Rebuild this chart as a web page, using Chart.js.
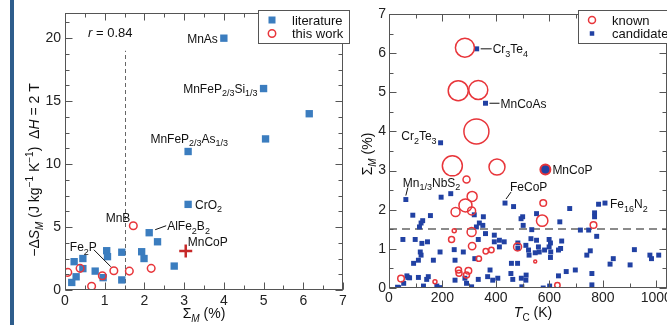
<!DOCTYPE html>
<html>
<head>
<meta charset="utf-8">
<script src="https://cdn.jsdelivr.net/npm/chart.js@4.4.0/dist/chart.umd.min.js"></script>
<style>
    html, body { margin: 0; padding: 0; background: #fff; overflow: hidden; width: 667px; height: 325px; }
    #bar { position: absolute; left: 10px; top: 0; width: 4px; height: 325px; background: #2e5d8c; }
    #wrap-left { position: absolute; left: 0; top: 0; width: 355px; height: 325px; }
    #wrap-right { position: absolute; left: 355px; top: 0; width: 330px; height: 325px; }
</style>
</head>
<body>
<div id="bar"></div>
<div id="wrap-left"><canvas id="left"></canvas></div>
<div id="wrap-right"><canvas id="right"></canvas></div>
<script>
// left panel: -dS_M vs Sigma_M
const litX = [4.0, 5.0, 6.15, 3.1, 5.05, 3.1, 2.12, 2.33, 1.93, 1.99, 2.75, 1.43, 1.43, 1.05, 1.07, 0.96, 0.76, 0.45, 0.45, 0.23, 0.28, 0.17];
const litY = [20, 16, 14, 11, 12, 6.8, 4.55, 3.83, 3.04, 2.5, 1.9, 3.0, 0.8, 3.12, 2.65, 0.98, 1.5, 2.5, 1.7, 2.25, 1.05, 0.6];
const workX = [1.72, 2.17, 1.62, 1.23, 0.94, 0.67, 0.38, 0.07];
const workY = [5.1, 1.72, 1.5, 1.53, 1.13, 0.3, 1.72, 1.4];
const mncopLeft = [3.04, 3.1];
const xTicksL = [0, 1, 2, 3, 4, 5, 6, 7];
const yTicksL = [0, 5, 10, 15, 20];
const cutoffSigma = 1.5;

// right panel: Sigma_M vs T_C
const knownTc = [284, 259, 334, 327, 237, 404, 290, 311, 286, 249, 309, 309, 244, 234, 311, 362, 383, 336, 260, 262, 297, 290, 45, 172, 481, 577, 573, 765, 547, 630];
const knownSigma = [6.14, 5.04, 5.06, 4.0, 3.12, 3.09, 2.77, 2.34, 2.11, 1.94, 1.97, 1.43, 1.46, 1.24, 1.07, 0.94, 0.97, 0.75, 0.46, 0.38, 0.44, 0.33, 0.24, 0.16, 1.05, 2.17, 1.72, 1.61, 0.68, 0.07];
const knownSize = [9.5, 10, 9.5, 12.5, 10, 8, 3.5, 5, 6.5, 4.5, 4, 4.5, 2, 3, 3.7, 2.7, 2.7, 2.7, 3, 3, 3.3, 3, 3.3, 2, 4, 3.3, 5.7, 3.3, 1.5, 2.7];
const candidates = [
    [32, 0.02], [55, 0.12], [71, 0.27], [52, 1.24], [63, 2.26],
    [195, 2.32], [231, 2.41], [319, 1.87], [89, 1.86], [120, 1.66], [114, 1.56], [126, 1.72], [327, 1.56],
    [98, 1.24], [123, 1.14], [144, 1.18], [117, 0.92], [120, 0.84], [191, 0.92], [244, 0.98], [278, 0.92],
    [166, 0.71], [247, 0.71], [110, 0.71], [92, 0.63], [321, 0.75], [67, 0.31], [77, 0.26], [110, 0.27],
    [141, 0.22], [147, 0.29], [129, 0.05], [179, 0.05], [191, 0.01], [36, 0.01], [247, 0.2], [284, 0.25],
    [290, 0.12], [334, 0.22], [309, 0.03], [338, 1.66], [155, 1.85], [334, 1.24],
    [434, 2.17], [466, 2.08], [353, 1.82], [351, 1.6], [361, 1.39], [394, 1.35], [413, 1.22], [394, 1.18],
    [413, 1.05], [378, 0.46], [369, 0.29], [388, 0.2], [407, 0.25], [463, 0.22], [481, 0.63], [497, 0.03],
    [512, 0.2], [500, 1.82], [502, 1.6], [512, 1.09], [522, 0.97], [524, 0.84], [531, 1.26], [552, 1.9],
    [552, 1.22], [559, 1.05], [562, 0.92], [547, 0.9], [599, 1.24], [599, 1.05], [605, 0.92], [634, 0.97],
    [642, 1.01], [646, 1.2], [639, 1.69], [676, 2.03], [663, 0.42], [634, 0.31], [601, 0.05], [577, 0.0],
    [431, 1.18], [456, 0.37], [494, 1.77], [534, 1.49], [482, 1.15], [482, 1.01], [582, 0.97], [604, 1.15],
    [604, 0.78], [458, 0.63], [495, 0.25], [513, 0.33],
    [784, 2.14], [808, 2.17], [769, 1.92], [769, 1.82], [716, 1.48], [747, 1.48], [777, 1.32], [753, 0.95],
    [740, 0.84], [918, 0.98], [976, 0.84], [982, 0.75], [1009, 0.84], [839, 0.75], [827, 0.61], [902, 0.59],
    [697, 0.46], [759, 0.37], [759, 0.08],
    [328, 6.11], [361, 4.72], [193, 3.71]
];
const mncopRight = [585, 3.03];
const xTicksR = [0, 200, 400, 600, 800, 1000];
const yTicksR = [0, 1, 2, 3, 4, 5, 6, 7];

const fam = '"Liberation Sans", Arial, Helvetica, sans-serif';
const red = '#e8353a';
const litBlue = '#3b7dbf';
const candBlue = '#2141a3';
const frameColor = '#555';

Chart.defaults.font.family = fam;
Chart.defaults.color = '#222';

function range(a, b, step) {
    const out = [];
    for (let v = a; v <= b + 1e-9; v += step) out.push(+v.toFixed(4));
    return out;
}

// tiny markup: *italic*, _{sub}, ^{sup}
function parseRich(s) {
    const out = [];
    let i = 0, it = false, buf = '';
    const push = (t, mode, ital) => { if (t) out.push({ t, mode, it: ital }); };
    while (i < s.length) {
        const c = s[i];
        if (c === '*') { push(buf, 0, it); buf = ''; it = !it; i++; }
        else if ((c === '_' || c === '^') && s[i + 1] === '{') {
            push(buf, 0, it); buf = '';
            const j = s.indexOf('}', i);
            let t = s.slice(i + 2, j), sit = it;
            if (t[0] === '*') { t = t.replace(/\*/g, ''); sit = true; }
            push(t, c === '_' ? 1 : -1, sit);
            i = j + 1;
        } else { buf += c; i++; }
    }
    push(buf, 0, it);
    return out;
}

function rich(ctx, s, x, y, size, align) {
    const segs = parseRich(s);
    const f = g => `${g.it ? 'italic ' : ''}${g.mode ? Math.round(size * 0.72) : size}px ${fam}`;
    let w = 0;
    segs.forEach(g => { ctx.font = f(g); g.w = ctx.measureText(g.t).width; w += g.w; });
    let cx = align === 'right' ? x - w : align === 'center' ? x - w / 2 : x;
    ctx.textAlign = 'left';
    ctx.textBaseline = 'alphabetic';
    const base = y + size * 0.36;
    segs.forEach(g => {
        ctx.font = f(g);
        const dy = g.mode === 1 ? size * 0.3 : g.mode === -1 ? -size * 0.4 : 0;
        ctx.fillText(g.t, cx, base + dy);
        cx += g.w;
    });
}

function drawFrame(chart, xMaj, xMin, yMaj, yMin) {
    const { ctx, chartArea: a, scales: { x, y } } = chart;
    const L = Math.round(a.left) + 0.5, R = Math.round(a.right) - 0.5;
    const T = Math.round(a.top) + 0.5, B = Math.round(a.bottom) - 0.5;
    ctx.save();
    ctx.strokeStyle = frameColor;
    ctx.lineWidth = 1;
    ctx.strokeRect(L, T, R - L, B - T);
    ctx.beginPath();
    const xt = (v, len) => {
        const p = Math.round(x.getPixelForValue(v)) + 0.5;
        if (p < L - 1 || p > R + 1) return;
        ctx.moveTo(p, B); ctx.lineTo(p, B - len);
        ctx.moveTo(p, T); ctx.lineTo(p, T + len);
    };
    const yt = (v, len) => {
        const p = Math.round(y.getPixelForValue(v)) + 0.5;
        if (p < T - 1 || p > B + 1) return;
        ctx.moveTo(L, p); ctx.lineTo(L + len, p);
        ctx.moveTo(R, p); ctx.lineTo(R - len, p);
    };
    xMin.forEach(v => xt(v, 4));
    xMaj.forEach(v => xt(v, 7));
    yMin.forEach(v => yt(v, 4));
    yMaj.forEach(v => yt(v, 7));
    ctx.stroke();
    ctx.restore();
}

function drawLabels(chart, labels) {
    const { ctx, scales: { x, y } } = chart;
    ctx.save();
    ctx.fillStyle = '#111';
    ctx.strokeStyle = '#111';
    ctx.lineWidth = 1;
    labels.forEach(l => {
        const px = x.getPixelForValue(l.at[0]), py = y.getPixelForValue(l.at[1]);
        if (l.line) {
            ctx.beginPath();
            ctx.moveTo(px + l.line[0], py + l.line[1]);
            ctx.lineTo(px + l.line[2], py + l.line[3]);
            ctx.stroke();
        }
        rich(ctx, l.s, px + l.dx, py + l.dy, 12, l.align);
    });
    ctx.restore();
}

function legendBox(ctx, left, top, w, h, items) {
    ctx.save();
    ctx.fillStyle = '#fff';
    ctx.fillRect(left, top, w, h);
    ctx.strokeStyle = frameColor;
    ctx.lineWidth = 1;
    ctx.strokeRect(left + 0.5, top + 0.5, w, h);
    items.forEach((it, i) => {
        const cy = top + 10 + i * 13.5, cx = left + 14;
        if (it.kind === 'rect') {
            ctx.fillStyle = it.color;
            ctx.fillRect(cx - it.size / 2, cy - it.size / 2, it.size, it.size);
        } else {
            ctx.strokeStyle = it.color;
            ctx.lineWidth = 1.5;
            ctx.beginPath();
            ctx.arc(cx, cy, it.size, 0, Math.PI * 2);
            ctx.stroke();
        }
        ctx.fillStyle = '#111';
        rich(ctx, it.text, left + 34, cy, 13, 'left');
    });
    ctx.restore();
}

function pts(xs, ys) { return xs.map((v, i) => ({ x: v, y: ys[i] })); }

function axisOpts(min, max, ticks, size, pad, fit) {
    return {
        type: 'linear', min, max,
        grid: { display: false, drawTicks: false },
        border: { display: false },
        ticks: { font: { size: 14 }, color: '#222', padding: pad, maxRotation: 0, callback: v => String(v) },
        afterBuildTicks: s => { s.ticks = ticks.map(v => ({ value: v })); },
        afterFit: fit
    };
}

const labelsL = [
    { s: 'MnAs', at: [4.0, 20], dx: -6, dy: 0, align: 'right' },
    { s: 'MnFeP_{2/3}Si_{1/3}', at: [5.0, 16], dx: -6, dy: 0, align: 'right' },
    { s: 'MnFeP_{2/3}As_{1/3}', at: [3.1, 11], dx: 40, dy: -13, align: 'right' },
    { s: 'CrO_{2}', at: [3.1, 6.8], dx: 7, dy: 0, align: 'left' },
    { s: 'AlFe_{2}B_{2}', at: [2.12, 4.55], dx: 18, dy: -7, align: 'left', line: [6, -3, 17, -7] },
    { s: 'MnB', at: [1.72, 5.1], dx: -3, dy: -8, align: 'right' },
    { s: 'MnCoP', at: [3.04, 3.1], dx: 2, dy: -9, align: 'left' },
    { s: 'Fe_{2}P', at: [1.23, 1.53], dx: -17, dy: -24, align: 'right', line: [-20, -21, -3, -4] }
];

const labelsR = [
    { s: 'Cr_{3}Te_{4}', at: [328, 6.11], dx: 16, dy: 0, align: 'left', line: [4, 0, 15, 0] },
    { s: 'MnCoAs', at: [361, 4.72], dx: 15, dy: 0, align: 'left', line: [4, 0, 14, 0] },
    { s: 'Cr_{2}Te_{3}', at: [193, 3.71], dx: -4, dy: -7, align: 'right' },
    { s: 'MnCoP', at: [585, 3.03], dx: 7, dy: 0, align: 'left' },
    { s: 'Mn_{1/3}NbS_{2}', at: [63, 2.26], dx: -3, dy: -17, align: 'left', line: [0, -4, 2, -12] },
    { s: 'FeCoP', at: [434, 2.17], dx: 5, dy: -16, align: 'left', line: [1, -4, 6, -11] },
    { s: 'Fe_{16}N_{2}', at: [808, 2.17], dx: 5, dy: 1, align: 'left' }
];

const leftDecor = {
    id: 'leftDecor',
    beforeDatasetsDraw(chart) {
        const { ctx, scales: { x, y } } = chart;
        ctx.save();
        ctx.strokeStyle = '#666';
        ctx.lineWidth = 1;
        ctx.setLineDash([4, 3]);
        const px = Math.round(x.getPixelForValue(cutoffSigma)) + 0.5;
        ctx.beginPath();
        ctx.moveTo(px, y.getPixelForValue(0));
        ctx.lineTo(px, y.getPixelForValue(19));
        ctx.stroke();
        ctx.restore();
    },
    afterDraw(chart) {
        const { ctx, chartArea: a, scales: { x, y } } = chart;
        drawFrame(chart, xTicksL, range(0, 7, 0.5), yTicksL, range(0, 22, 1.25));
        drawLabels(chart, labelsL);
        ctx.save();
        ctx.fillStyle = '#111';
        rich(ctx, '*r* = 0.84', x.getPixelForValue(0.58), y.getPixelForValue(20.5), 13, 'left');
        // axis titles
        rich(ctx, 'Σ_{*M*} (%)', (a.left + a.right) / 2, 313, 14, 'center');
        ctx.translate(34, 170);
        ctx.rotate(-Math.PI / 2);
        rich(ctx, '−Δ*S*_{*M*} (J kg^{−1} K^{−1})  Δ*H* = 2 T', 0, 0, 14, 'center');
        ctx.restore();
        legendBox(ctx, 258, 10, 91, 33, [
            { kind: 'rect', color: litBlue, size: 7, text: 'literature' },
            { kind: 'circle', color: red, size: 3.7, text: 'this work' }
        ]);
    }
};

const rightDecor = {
    id: 'rightDecor',
    beforeDatasetsDraw(chart) {
        const { ctx, chartArea: a, scales: { y } } = chart;
        ctx.save();
        ctx.strokeStyle = '#666';
        ctx.lineWidth = 1.5;
        ctx.setLineDash([8, 5]);
        const py = Math.round(y.getPixelForValue(cutoffSigma));
        ctx.beginPath();
        ctx.moveTo(a.left, py);
        ctx.lineTo(a.right, py);
        ctx.stroke();
        ctx.restore();
    },
    afterDraw(chart) {
        const { ctx } = chart;
        drawFrame(chart, xTicksR, range(0, 1100, 100), yTicksR, range(0, 7, 0.5));
        drawLabels(chart, labelsR);
        ctx.save();
        ctx.fillStyle = '#111';
        rich(ctx, '*T*_{C} (K)', 178, 312, 14, 'center');
        ctx.translate(12, 154);
        ctx.rotate(-Math.PI / 2);
        rich(ctx, 'Σ_{*M*} (%)', 0, 0, 14, 'center');
        ctx.restore();
        legendBox(ctx, 223, 10, 110, 33, [
            { kind: 'circle', color: red, size: 3.5, text: 'known' },
            { kind: 'rect', color: candBlue, size: 4.5, text: 'candidate' }
        ]);
    }
};

new Chart(document.getElementById('left'), {
    type: 'scatter',
    data: {
        datasets: [
            { data: [{ x: mncopLeft[0], y: mncopLeft[1] }], pointStyle: 'cross', pointRadius: 6.5, pointBorderColor: '#c62828', pointBorderWidth: 2.5 },
            { data: pts(workX, workY), pointStyle: 'circle', pointRadius: 3.8, pointBorderColor: red, pointBorderWidth: 1.5, pointBackgroundColor: 'rgba(255,255,255,0)' },
            { data: pts(litX, litY), pointStyle: 'rect', pointRadius: 5.2, pointBackgroundColor: litBlue, pointBorderWidth: 0 }
        ]
    },
    options: {
        responsive: true,
        maintainAspectRatio: false,
        animation: false,
        layout: { padding: { top: 13, right: 12, left: 0, bottom: 0 } },
        plugins: { legend: { display: false }, tooltip: { enabled: false } },
        scales: {
            x: axisOpts(0, 7, xTicksL, 14, 3, s => { s.height = 35; }),
            y: axisOpts(0, 22, yTicksL, 14, 4, s => { s.width = 65; })
        }
    },
    plugins: [leftDecor]
});

new Chart(document.getElementById('right'), {
    type: 'scatter',
    data: {
        datasets: [
            { data: [{ x: mncopRight[0], y: mncopRight[1] }], pointStyle: 'circle', pointRadius: 5, pointBackgroundColor: candBlue, pointBorderColor: red, pointBorderWidth: 2 },
            { data: pts(knownTc, knownSigma), pointStyle: 'circle', pointRadius: ctx => knownSize[ctx.dataIndex], pointBorderColor: red, pointBorderWidth: 1.5, pointBackgroundColor: 'rgba(255,255,255,0)' },
            { data: candidates.map(p => ({ x: p[0], y: p[1] })), pointStyle: 'rect', pointRadius: 3.5, pointBackgroundColor: candBlue, pointBorderWidth: 0 }
        ]
    },
    options: {
        responsive: true,
        maintainAspectRatio: false,
        animation: false,
        layout: { padding: { top: 13, right: 18, left: 0, bottom: 0 } },
        plugins: { legend: { display: false }, tooltip: { enabled: false } },
        scales: {
            x: axisOpts(0, 1040, xTicksR, 14, 2, s => { s.height = 37; }),
            y: axisOpts(0, 7, yTicksR, 14, 3, s => { s.width = 34; })
        }
    },
    plugins: [rightDecor]
});
</script>
</body>
</html>
